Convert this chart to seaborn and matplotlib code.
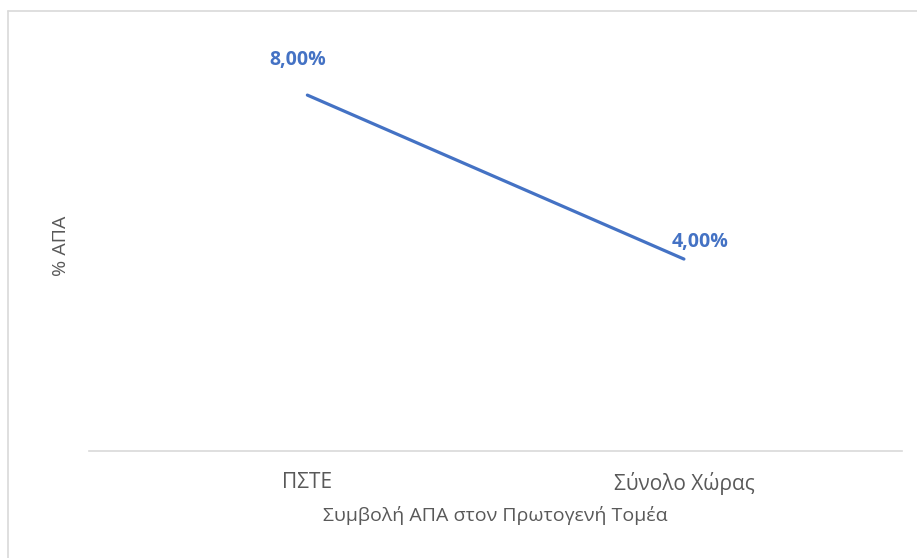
import matplotlib.pyplot as plt
import pandas as pd
import seaborn as sns
from matplotlib.lines import Line2D

# data
categories = ["ΠΣΤΕ", "Σύνολο Χώρας"]
values = [8.0, 4.0]
value_labels = ["8,00%", "4,00%"]

LINE_COLOR = "#4472C4"
TEXT_COLOR = "#595959"
GRID_COLOR = "#D9D9D9"

sns.set_theme(style="white")
plt.rcParams["font.family"] = ["Open Sans", "DejaVu Sans"]

df = pd.DataFrame({"pos": range(len(categories)), "value": values})

fig = plt.figure(figsize=(9.17, 5.58), dpi=100)
ax = fig.add_axes([0.097, 0.192, 0.887, 0.736])

sns.lineplot(data=df, x="pos", y="value", ax=ax, color=LINE_COLOR, linewidth=2.3)

# data labels
offsets = [(-7, 25), (11.5, 12)]
for x, y, txt, off in zip(df["pos"], df["value"], value_labels, offsets):
    ax.annotate(txt, (x, y), xytext=off, textcoords="offset points",
                ha="center", va="center", fontsize=14, fontweight="bold",
                color=LINE_COLOR)

ax.set_xlim(-0.58, 1.58)
ax.set_ylim(-0.68, 9.34)
ax.set_xticks(df["pos"])
ax.set_xticklabels(categories, fontsize=15, color=TEXT_COLOR)
ax.set_yticks([])
ax.tick_params(axis="x", length=0, pad=15)

ax.set_xlabel("Συμβολή ΑΠΑ στον Πρωτογενή Τομέα", fontsize=14,
              color=TEXT_COLOR, labelpad=8)
ax.set_ylabel("% ΑΠΑ", fontsize=14, color=TEXT_COLOR, labelpad=14)

for side in ["top", "right", "left"]:
    ax.spines[side].set_visible(False)
ax.spines["bottom"].set_color(GRID_COLOR)
ax.spines["bottom"].set_linewidth(1.2)

# chart-area border (only top and left edges visible in the crop)
fig.add_artist(Line2D([8 / 917, 1], [1 - 11 / 558, 1 - 11 / 558],
                      transform=fig.transFigure, color=GRID_COLOR, linewidth=1.2))
fig.add_artist(Line2D([8 / 917, 8 / 917], [0, 1 - 11 / 558],
                      transform=fig.transFigure, color=GRID_COLOR, linewidth=1.2))

fig.savefig("out.png", dpi=100)
